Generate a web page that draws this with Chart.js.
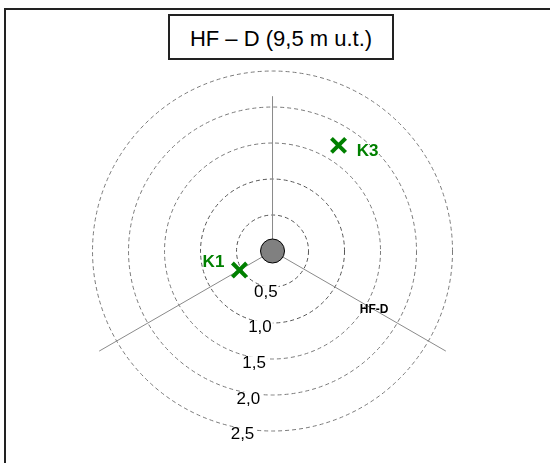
<!DOCTYPE html>
<html>
<head>
    <title>HF – D (9,5 m u.t.)</title>
    <script src="https://cdn.jsdelivr.net/npm/chart.js"></script>
    <style>
        body {
            margin: 0;
            background: #fff;
            font-family: Arial, "Liberation Sans", sans-serif;
        }
        .wrap {
            position: relative;
            width: 550px;
            height: 463px;
            overflow: hidden;
        }
        .frame {
            position: absolute;
            left: 4px;
            top: 8px;
            width: 600px;
            height: 500px;
            border-left: 2px solid #222;
            border-top: 2px solid #222;
        }
        .title-box {
            position: absolute;
            left: 168px;
            top: 14px;
            width: 222px;
            height: 42px;
            border: 2px solid #222;
            background: #fff;
            text-align: center;
            line-height: 46px;
            font-size: 22px;
            color: #000;
            z-index: 2;
        }
        canvas {
            position: absolute;
            left: 0;
            top: 0;
        }
    </style>
</head>
<body>
<div class="wrap">
    <div class="frame"></div>
    <canvas id="chart" width="550" height="463"></canvas>
    <div class="title-box">HF – D (9,5 m u.t.)</div>
</div>

<script>
    // distance rings (m) and their labels
    const ringValues = [0.5, 1.0, 1.5, 2.0, 2.5];
    const ringLabels = ['0,5', '1,0', '1,5', '2,0', '2,5'];

    // axis lines: direction in degrees (counter-clockwise from east) and length in m
    const axisAngles = [90, 210, 330];
    const axisLengths = [2.15, 2.78, 2.78];
    const axisName = 'HF-D';
    const axisNameDist = 1.63;

    // measured points
    const pointNames = ['K1', 'K3'];
    const pointDist = [0.53, 1.73];
    const pointAngle = [210, 58];

    const rad = d => d * Math.PI / 180;
    const polar = (r, a) => ({ x: r * Math.cos(rad(a)), y: r * Math.sin(rad(a)) });

    const axisDatasets = axisAngles.map((a, i) => ({
        type: 'line',
        data: [{ x: 0, y: 0 }, polar(axisLengths[i], a)],
        borderColor: '#8a8a8a',
        borderWidth: 1,
        pointRadius: 0,
        order: 3
    }));

    // rings, tick labels, axis name and point names
    const ringPlugin = {
        id: 'rings',
        beforeDatasetsDraw(chart) {
            const { ctx, scales: { x, y } } = chart;
            const cx = x.getPixelForValue(0), cy = y.getPixelForValue(0);
            ctx.save();
            ctx.setLineDash([4, 3]);
            ctx.lineWidth = 1;
            ringValues.forEach((v, i) => {
                const r = x.getPixelForValue(v) - cx;
                ctx.strokeStyle = i < 2 ? '#555' : '#7a7a7a';
                ctx.beginPath();
                ctx.arc(cx, cy, r, 0, Math.PI * 2);
                ctx.stroke();
            });
            ctx.restore();
        },
        afterDatasetsDraw(chart) {
            const { ctx, scales: { x, y } } = chart;
            ctx.save();
            ctx.textAlign = 'center';
            ctx.textBaseline = 'middle';

            // tick labels, slightly to the left of straight down
            ctx.font = '17px Arial, "Liberation Sans", sans-serif';
            ringValues.forEach((v, i) => {
                const p = polar(v + 0.08, 260.7);
                const px = x.getPixelForValue(p.x), py = y.getPixelForValue(p.y);
                const w = ctx.measureText(ringLabels[i]).width;
                ctx.fillStyle = '#fff';
                ctx.fillRect(px - w / 2 - 1, py - 7, w + 2, 14);
                ctx.fillStyle = '#000';
                ctx.fillText(ringLabels[i], px, py);
            });

            // axis name on the lower-right axis
            const n = polar(axisNameDist, 330);
            ctx.font = 'bold 12px Arial, "Liberation Sans", sans-serif';
            ctx.fillStyle = '#000';
            ctx.fillText(axisName, x.getPixelForValue(n.x), y.getPixelForValue(n.y));

            // point names
            ctx.font = 'bold 17px Arial, "Liberation Sans", sans-serif';
            ctx.fillStyle = '#008000';
            const meta = chart.getDatasetMeta(chart.data.datasets.length - 1);
            const offsets = [[-26, -8], [29, 6]];
            meta.data.forEach((el, i) => {
                ctx.fillText(pointNames[i], el.x + offsets[i][0], el.y + offsets[i][1]);
            });
            ctx.restore();
        }
    };

    new Chart(document.getElementById('chart'), {
        type: 'scatter',
        data: {
            datasets: [
                ...axisDatasets,
                {
                    label: 'centre',
                    data: [{ x: 0, y: 0 }],
                    backgroundColor: '#808080',
                    borderColor: '#000',
                    borderWidth: 1,
                    pointRadius: 12,
                    order: 2
                },
                {
                    label: 'points',
                    data: pointNames.map((n, i) => polar(pointDist[i], pointAngle[i])),
                    pointStyle: 'crossRot',
                    pointRadius: 10,
                    borderColor: '#008000',
                    borderWidth: 4,
                    order: 1
                }
            ]
        },
        options: {
            responsive: false,
            animation: false,
            devicePixelRatio: 1,
            layout: { padding: 0, autoPadding: false },
            plugins: {
                legend: { display: false },
                tooltip: { enabled: false }
            },
            scales: {
                x: { type: 'linear', min: -3.785, max: 3.854, display: false },
                y: { type: 'linear', min: -2.944, max: 3.486, display: false }
            }
        },
        plugins: [ringPlugin]
    });
</script>
</body>
</html>
